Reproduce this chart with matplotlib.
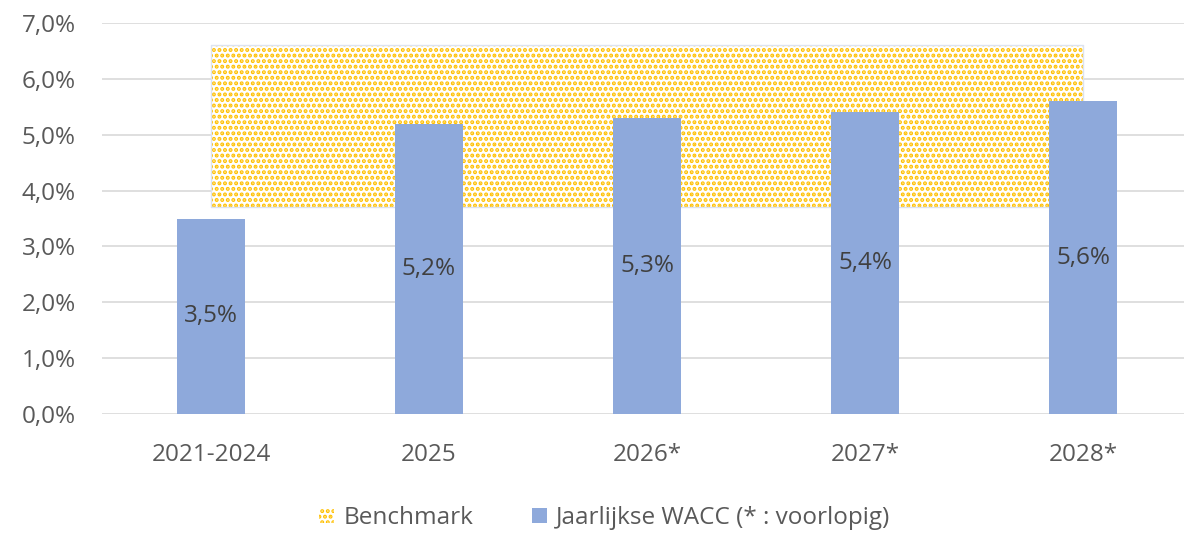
import matplotlib.pyplot as plt
import numpy as np

plt.rcParams['font.family'] = ['Open Sans', 'DejaVu Sans']
plt.rcParams['hatch.linewidth'] = 2.0

categories = ["2021-2024", "2025", "2026*", "2027*", "2028*"]
wacc = [3.5, 5.2, 5.3, 5.4, 5.6]
wacc_labels = ["3,5%", "5,2%", "5,3%", "5,4%", "5,6%"]
bench_low = [3.7, 3.7, 3.7, 3.7, 3.7]
bench_high = [6.6, 6.6, 6.6, 6.6, 6.6]
yticks = [0, 1, 2, 3, 4, 5, 6, 7]

fig = plt.figure(figsize=(11.84, 5.36), dpi=100)
ax = fig.add_axes([102/1184, (536-414)/536, (1184-102)/1184, (414-23)/536])

x = np.arange(len(categories))

# benchmark band (area between low and high)
ax.fill_between(x, bench_low, bench_high, facecolor='white', edgecolor='#FFC000',
                hatch='...', linewidth=0, zorder=1, label='Benchmark')
ax.fill_between(x, bench_low, bench_high, facecolor='none', edgecolor='#DCE3F0',
                linewidth=1, zorder=1)

bars = ax.bar(x, wacc, width=0.31, color='#8EA9DB', zorder=2,
              label='Jaarlijkse WACC (* : voorlopig)')
for xi, v, lab in zip(x, wacc, wacc_labels):
    ax.text(xi, v / 2, lab, ha='center', va='center', fontsize=17.5, color='#404040', zorder=3)

ax.set_ylim(0, 7)
ax.set_xlim(-0.5, 4.5 - 8/218)
ax.set_yticks(yticks)
ax.set_yticklabels([f"{t},0%" for t in yticks])
ax.set_xticks(x)
ax.set_xticklabels(categories)
ax.tick_params(axis='y', length=0, pad=19, labelsize=17.5, labelcolor='#595959')
ax.tick_params(axis='x', length=0, pad=21, labelsize=17.5, labelcolor='#595959')
ax.grid(axis='y', color='#D9D9D9', linewidth=1.2, zorder=0)
ax.set_axisbelow(True)
for s in ax.spines.values():
    s.set_visible(False)

leg = fig.legend(loc='center', bbox_to_anchor=(605/1184, (536-518)/536), ncol=2, frameon=False,
                 fontsize=17.5, labelcolor='#595959', handlelength=0.6, handleheight=0.6,
                 handletextpad=0.4, columnspacing=2.4)

fig.savefig('out.png', dpi=100)
